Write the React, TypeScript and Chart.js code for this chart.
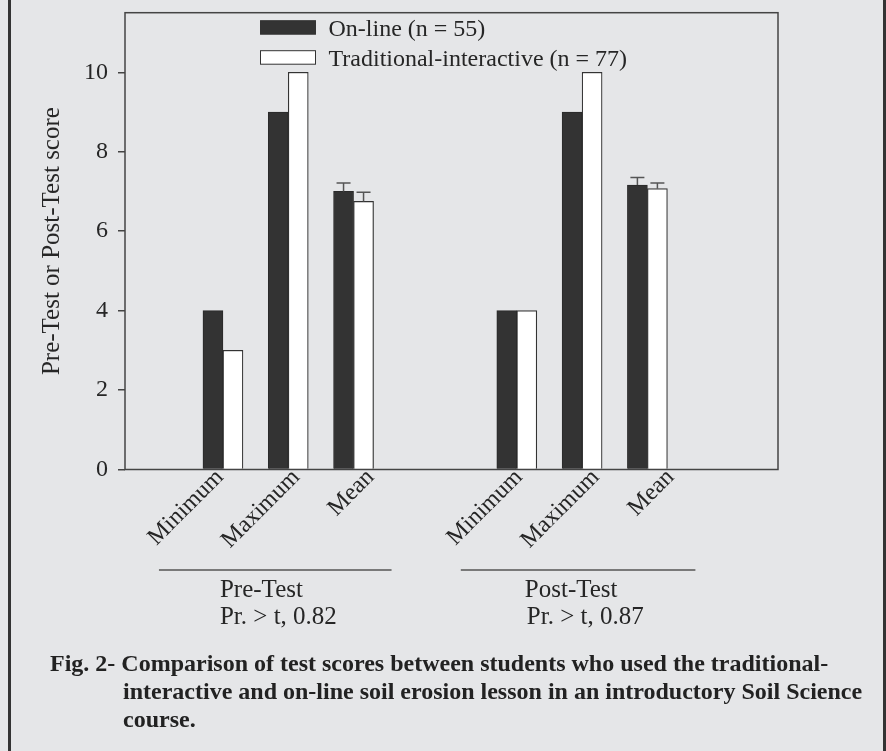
import React, { useEffect, useRef } from "react";
import { Chart, registerables } from "chart.js";

Chart.register(...registerables);

// ---- data ----
const STATS = ["Minimum", "Maximum", "Mean"];
const TESTS = ["Pre-Test", "Post-Test"];
const P_VALUES = ["Pr. > t, 0.82", "Pr. > t, 0.87"];
const SERIES = ["On-line (n = 55)", "Traditional-interactive (n = 77)"];
const ONLINE_PRE = [4, 9, 7.0];
const ONLINE_POST = [4, 9, 7.16];
const TRAD_PRE = [3, 10, 6.75];
const TRAD_POST = [4, 10, 7.07];
const ONLINE_PRE_SE = [null, null, 0.21];
const ONLINE_POST_SE = [null, null, 0.19];
const TRAD_PRE_SE = [null, null, 0.23];
const TRAD_POST_SE = [null, null, 0.14];
const Y_TICKS = [0, 2, 4, 6, 8, 10];
const Y_TITLE = "Pre-Test or Post-Test score";
const CAPTION = [
  "Fig. 2- Comparison of test scores between students who used the traditional-",
  "interactive and on-line soil erosion lesson in an introductory Soil Science",
  "course.",
];

// ---- layout (slot positions on the category axis, label nudges) ----
const N_SLOTS = 21;
const GROUP_SLOTS = [
  [3, 5, 7],
  [12, 14, 16],
];
const LABEL_DX = [
  [1.4, 12.5, 21.5],
  [6.6, 18, 27.7],
];

const FONT = "'Liberation Serif', 'Times New Roman', serif";
const TEXT = "#262626";
const DARK = "#333333";
const BG = "#e5e6e8";

function buildLabels(): string[] {
  const labels = new Array(N_SLOTS).fill("");
  GROUP_SLOTS.forEach((slots) => slots.forEach((s, i) => (labels[s] = STATS[i])));
  return labels;
}
function spread(groups: (number | null)[][]): (number | null)[] {
  const out: (number | null)[] = new Array(N_SLOTS).fill(null);
  GROUP_SLOTS.forEach((slots, g) => slots.forEach((s, i) => (out[s] = groups[g][i])));
  return out;
}

const frameAndExtras = {
  id: "frameAndExtras",
  afterDatasetsDraw(chart: any) {
    const { ctx, scales } = chart;
    const y = scales.y;
    chart.data.datasets.forEach((ds: any, di: number) => {
      const meta = chart.getDatasetMeta(di);
      (ds.errors || []).forEach((e: number | null, i: number) => {
        if (e == null || ds.data[i] == null) return;
        const bar = meta.data[i];
        const x = bar.x;
        const yTop = y.getPixelForValue(ds.data[i]);
        const yErr = y.getPixelForValue(ds.data[i] + e);
        ctx.save();
        ctx.strokeStyle = "#555";
        ctx.lineWidth = 1.5;
        ctx.beginPath();
        ctx.moveTo(x, yTop);
        ctx.lineTo(x, yErr);
        ctx.moveTo(x - 7, yErr);
        ctx.lineTo(x + 7, yErr);
        ctx.stroke();
        ctx.restore();
      });
    });
  },
  afterDraw(chart: any) {
    const { ctx, chartArea, scales } = chart;
    const x = scales.x;
    ctx.save();
    // plot frame
    ctx.strokeStyle = "#444";
    ctx.lineWidth = 1.5;
    ctx.strokeRect(chartArea.left, chartArea.top, chartArea.right - chartArea.left, chartArea.bottom - chartArea.top);

    // legend
    ctx.font = `24px ${FONT}`;
    ctx.textBaseline = "alphabetic";
    ctx.textAlign = "left";
    chart.data.datasets.forEach((ds: any, i: number) => {
      const bx = chartArea.left + 135.5;
      const by = chartArea.top + 8 + i * 30;
      ctx.fillStyle = ds.backgroundColor;
      ctx.fillRect(bx, by, 55, 13.5);
      ctx.strokeStyle = DARK;
      ctx.lineWidth = 1;
      ctx.strokeRect(bx, by, 55, 13.5);
      ctx.fillStyle = TEXT;
      ctx.fillText(ds.label, bx + 68, by + 15.5);
    });

    // category labels (rotated 45°), anchored to bar-pair positions
    const labels = chart.data.labels;
    GROUP_SLOTS.forEach((slots, g) => {
      slots.forEach((s, i) => {
        const px = x.getPixelForValue(s) + LABEL_DX[g][i];
        const py = chartArea.bottom + 8.5;
        ctx.save();
        ctx.translate(px, py);
        ctx.rotate(-Math.PI / 4);
        ctx.textAlign = "right";
        ctx.textBaseline = "alphabetic";
        ctx.fillStyle = TEXT;
        ctx.font = `24px ${FONT}`;
        ctx.fillText(labels[s], 0, 0);
        ctx.restore();
      });
    });

    // group annotations
    const lineOff = [
      [-64, 38],
      [-56, 48],
    ];
    const textOff = [
      [-3, -3],
      [8, 10],
    ];
    GROUP_SLOTS.forEach((slots, g) => {
      const x0 = x.getPixelForValue(slots[0]);
      const x1 = x.getPixelForValue(slots[slots.length - 1]);
      const ly = chartArea.bottom + 100.5;
      ctx.strokeStyle = "#555";
      ctx.lineWidth = 1.5;
      ctx.beginPath();
      ctx.moveTo(x0 + lineOff[g][0], ly);
      ctx.lineTo(x1 + lineOff[g][1], ly);
      ctx.stroke();
      ctx.fillStyle = TEXT;
      ctx.textAlign = "left";
      ctx.font = `25px ${FONT}`;
      ctx.fillText(TESTS[g], x0 + textOff[g][0], ly + 27);
      ctx.fillText(P_VALUES[g], x0 + textOff[g][1], ly + 53.5);
    });
    ctx.restore();
  },
};

export default function App() {
  const ref = useRef<HTMLCanvasElement | null>(null);

  useEffect(() => {
    if (!ref.current) return;
    const font = { family: FONT, size: 24 };
    const zeroPad = (s: any) => {
      s.paddingTop = 0;
      s.paddingBottom = 0;
      s.paddingLeft = 0;
      s.paddingRight = 0;
    };
    const chart = new Chart(ref.current, {
      type: "bar",
      data: {
        labels: buildLabels(),
        datasets: [
          {
            label: SERIES[0],
            data: spread([ONLINE_PRE, ONLINE_POST]),
            errors: spread([ONLINE_PRE_SE, ONLINE_POST_SE]),
            backgroundColor: DARK,
            borderColor: "#2a2a2a",
            borderWidth: 1,
            barThickness: 20,
          } as any,
          {
            label: SERIES[1],
            data: spread([TRAD_PRE, TRAD_POST]),
            errors: spread([TRAD_PRE_SE, TRAD_POST_SE]),
            backgroundColor: "#ffffff",
            borderColor: DARK,
            borderWidth: 1.2,
            barThickness: 20,
          } as any,
        ],
      },
      options: {
        animation: false,
        responsive: false,
        maintainAspectRatio: false,
        devicePixelRatio: 1,
        layout: { padding: { top: 12.7, right: 108, left: 0, bottom: 0 } },
        plugins: { legend: { display: false }, tooltip: { enabled: false } },
        scales: {
          x: {
            type: "category",
            offset: false,
            grid: { display: false, drawTicks: false },
            border: { display: false },
            ticks: { display: false, autoSkip: false },
            afterFit: (s: any) => {
              s.height = 751 - 469.5;
              zeroPad(s);
            },
          },
          y: {
            min: 0,
            max: 11.5,
            afterBuildTicks: (s: any) => {
              s.ticks = Y_TICKS.map((v) => ({ value: v }));
            },
            ticks: { padding: 10, color: TEXT, font },
            grid: { drawOnChartArea: false, tickLength: 7, color: "#444", lineWidth: 1.5 },
            border: { display: false },
            title: {
              display: true,
              text: Y_TITLE,
              color: TEXT,
              font: { family: FONT, size: 25 },
              padding: { top: 37, bottom: 0 },
            },
            afterFit: (s: any) => {
              s.width = 125;
              zeroPad(s);
            },
          },
        },
      } as any,
      plugins: [frameAndExtras],
    });
    return () => chart.destroy();
  }, []);

  return (
    <div
      style={{
        position: "absolute",
        left: 0,
        top: 0,
        width: 886,
        height: 751,
        background: BG,
        overflow: "hidden",
      }}
    >
      <canvas ref={ref} width={886} height={751} style={{ position: "absolute", left: 0, top: 0, width: 886, height: 751 }} />
      <div style={{ position: "absolute", left: 8, top: 0, width: 3, height: 751, background: "#333" }} />
      <div style={{ position: "absolute", left: 883, top: 0, width: 3, height: 751, background: "#333" }} />
      <div
        style={{
          position: "absolute",
          left: 50,
          top: 648.5,
          fontFamily: FONT,
          fontWeight: "bold",
          fontSize: 24,
          lineHeight: "28px",
          color: "#222",
          whiteSpace: "nowrap",
        }}
      >
        {CAPTION.map((line, i) => (
          <div key={i} style={{ paddingLeft: i === 0 ? 0 : 73 }}>
            {line}
          </div>
        ))}
      </div>
    </div>
  );
}
